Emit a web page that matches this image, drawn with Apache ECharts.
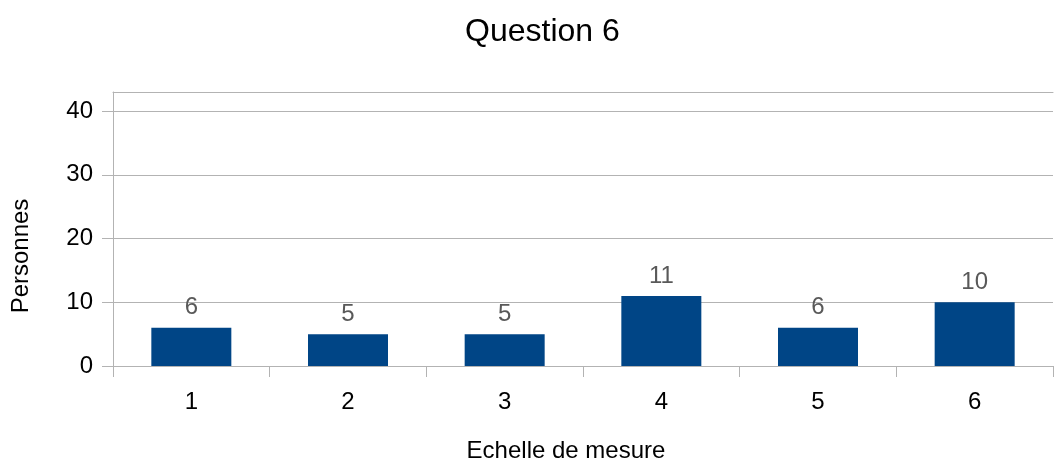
<!DOCTYPE html>
<html>
<head>
<meta charset="utf-8">
<script src="https://cdn.jsdelivr.net/npm/echarts@6/dist/echarts.min.js"></script>
<style>html,body{margin:0;padding:0;background:#fff}#c{width:1054px;height:460px}</style>
</head>
<body>
<div id="c"></div>
<script>
const categories = ['1', '2', '3', '4', '5', '6'];
const values = [6, 5, 5, 11, 6, 10];
const yTicks = [0, 10, 20, 30, 40];

const chart = echarts.init(document.getElementById('c'), null, {renderer: 'canvas'});
const font = '"Liberation Sans", Arial, sans-serif';
chart.setOption({
  animation: false,
  title: {
    text: 'Question 6', left: 460, top: 11,
    textStyle: {fontFamily: font, fontSize: 32, fontWeight: 'normal', color: '#000'}
  },
  grid: {left: 113, right: 1, top: 92, bottom: 94, containLabel: false, outerBoundsMode: 'none'},
  xAxis: [{
    type: 'category', data: categories, boundaryGap: true,
    name: 'Echelle de mesure', nameLocation: 'middle', nameGap: 73,
    nameTextStyle: {fontFamily: font, fontSize: 24, color: '#000', padding: [0, 34, 0, 0]},
    axisLine: {lineStyle: {color: '#b3b3b3', width: 1}},
    axisTick: {show: true, length: 11, alignWithLabel: false, lineStyle: {color: '#b3b3b3'}},
    axisLabel: {fontFamily: font, fontSize: 24, color: '#000', margin: 24}
  }, {
    type: 'category', data: categories, position: 'top',
    axisLine: {show: true, onZero: false, lineStyle: {color: '#b3b3b3', width: 1}},
    axisTick: {show: false}, axisLabel: {show: false}, splitLine: {show: false}
  }],
  yAxis: {
    type: 'value', min: 0, max: 43, interval: 10,
    name: 'Personnes', nameLocation: 'middle', nameGap: 80, nameRotate: 90,
    nameTextStyle: {fontFamily: font, fontSize: 24, color: '#000', padding: [0, 54, 0, 0]},
    axisLine: {show: true, lineStyle: {color: '#b3b3b3', width: 1}},
    axisTick: {show: true, length: 11, customValues: yTicks, lineStyle: {color: '#b3b3b3'}},
    axisLabel: {fontFamily: font, fontSize: 24, color: '#000', margin: 20, customValues: yTicks},
    splitLine: {show: true, lineStyle: {color: '#b3b3b3', width: 1}}
  },
  series: [{
    type: 'bar', data: values, barWidth: 80, xAxisIndex: 0,
    itemStyle: {color: '#004586'},
    label: {show: true, position: 'top', distance: 8, fontFamily: font, fontSize: 24, color: '#595959'}
  }]
});
</script>
</body>
</html>
